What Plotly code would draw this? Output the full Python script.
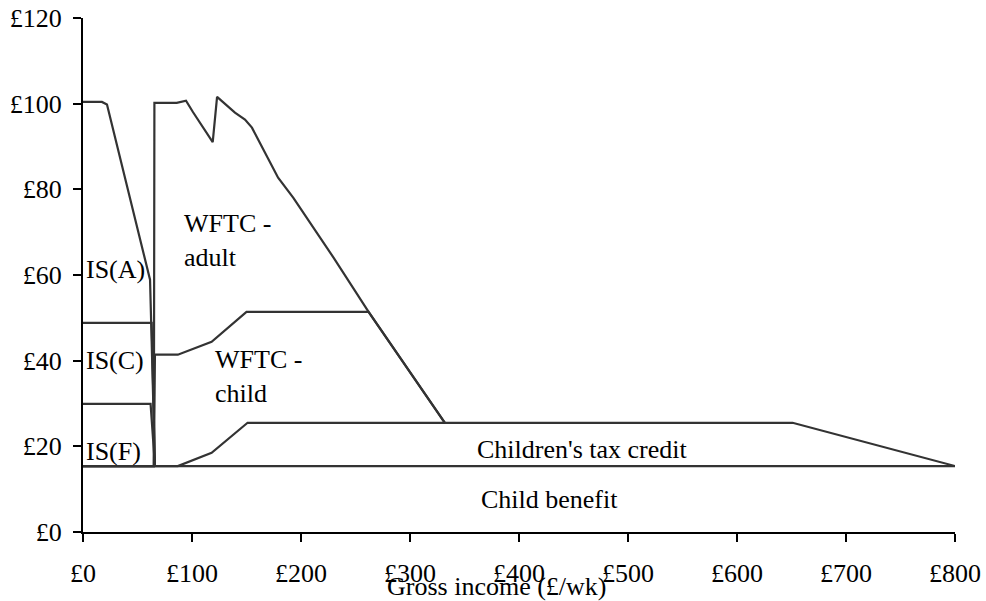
import plotly.graph_objects as go

# boundary lines of the stacked support components, £/wk against gross income £/wk
child_benefit_x = [0, 800]
child_benefit_y = [15.4, 15.4]

ctc_x = [0, 87, 118, 151, 651, 800]
ctc_y = [15.4, 15.4, 18.5, 25.5, 25.5, 15.4]

wftc_child_x = [0, 65, 66, 87, 118, 150, 262, 332]
wftc_child_y = [15.4, 15.4, 41.4, 41.4, 44.4, 51.4, 51.4, 25.5]

wftc_adult_x = [0, 65, 65.5, 86, 94.5, 101, 119, 123, 139.4, 148.6, 155, 179, 193, 230, 262, 332]
wftc_adult_y = [15.4, 15.4, 100.2, 100.2, 100.7, 98, 91, 101.6, 97.9, 96.3, 94.4, 82.7, 78, 64, 51.4, 25.5]

is_f_x = [0, 62, 66]
is_f_y = [29.9, 29.9, 15.4]

is_c_x = [0, 63, 66]
is_c_y = [48.8, 48.8, 15.4]

is_a_x = [0, 17.4, 22, 61.5, 66]
is_a_y = [100.4, 100.4, 99.8, 58.9, 15.4]

x_ticks = [0, 100, 200, 300, 400, 500, 600, 700, 800]
y_ticks = [0, 20, 40, 60, 80, 100, 120]

line_col = '#333333'
font = dict(family='Liberation Serif, Times New Roman, serif', size=26, color='black')

fig = go.Figure()
for xs, ys in [(child_benefit_x, child_benefit_y), (ctc_x, ctc_y),
               (wftc_child_x, wftc_child_y), (wftc_adult_x, wftc_adult_y),
               (is_f_x, is_f_y), (is_c_x, is_c_y), (is_a_x, is_a_y)]:
    fig.add_trace(go.Scatter(x=xs, y=ys, mode='lines',
                             line=dict(color=line_col, width=2.2),
                             hoverinfo='skip', showlegend=False))

# region labels
labels = [
    (0.8, 61.2, 'IS(A)', 'left'),
    (0.8, 40.0, 'IS(C)', 'left'),
    (0.8, 18.7, 'IS(F)', 'left'),
    (90.8, 68.0, 'WFTC -<br>adult', 'left'),
    (119.3, 36.4, 'WFTC -<br>child', 'left'),
    (457.8, 19.2, "Children's tax credit", 'center'),
    (428.0, 7.5, 'Child benefit', 'center'),
]
for x, y, t, anc in labels:
    fig.add_annotation(x=x, y=y, text=t, showarrow=False, xanchor=anc,
                       yanchor='middle', align='left', font=font)

# axis title sits over the tick labels, as in the original
fig.add_annotation(x=0.475, y=-(586 - 532) / 514, xref='paper', yref='paper',
                   text='Gross income (£/wk)', showarrow=False,
                   xanchor='center', yanchor='middle', font=font)

fig.update_xaxes(range=[0, 800], tickvals=x_ticks,
                 ticktext=['£%d' % v for v in x_ticks],
                 showgrid=False, zeroline=False, showline=True,
                 linecolor='black', linewidth=2, ticks='outside',
                 ticklen=8, tickwidth=2, tickcolor='black',
                 ticklabelstandoff=9, tickfont=font, automargin=False)
fig.update_yaxes(range=[0, 120], tickvals=y_ticks,
                 ticktext=['£%d' % v for v in y_ticks],
                 showgrid=False, zeroline=False, showline=True,
                 linecolor='black', linewidth=2, ticks='outside',
                 ticklen=8, tickwidth=2, tickcolor='black',
                 ticklabelstandoff=6, tickfont=font, automargin=False)

fig.update_layout(width=986, height=601,
                  margin=dict(l=83, r=31, t=18, b=69),
                  plot_bgcolor='white', paper_bgcolor='white',
                  showlegend=False)

# drop the default 8px page margin so the figure fills the window
fig.write_html("out.html", config={'displayModeBar': False},
               post_script="document.body.style.margin='0';")
